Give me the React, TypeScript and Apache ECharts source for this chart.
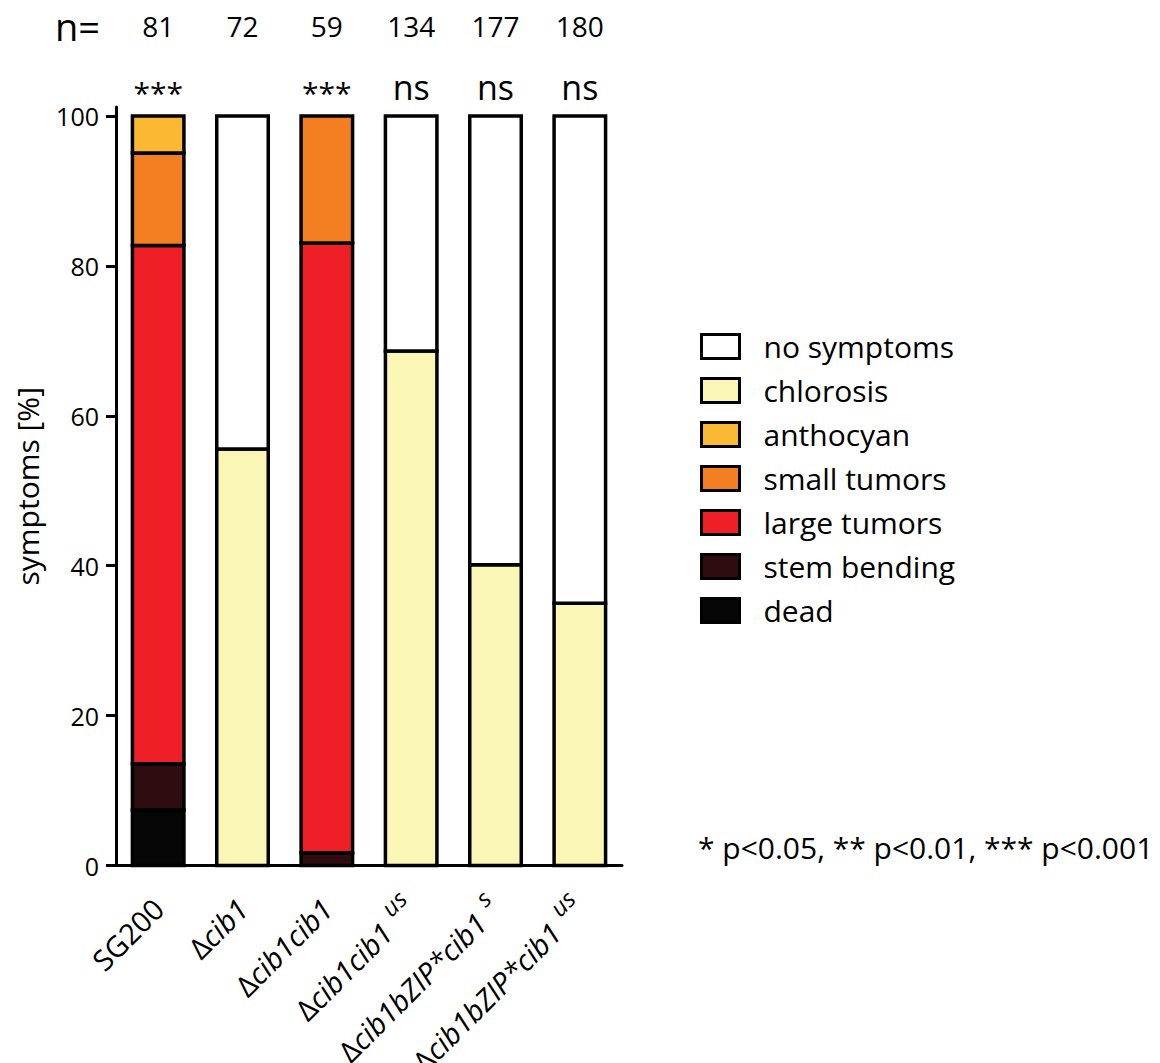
import React, { useEffect, useRef } from 'react';
import * as echarts from 'echarts';

// Strain names; "^" marks a superscript suffix, a leading Δ is drawn upright
const strains = ['SG200', 'Δcib1', 'Δcib1cib1', 'Δcib1cib1^us', 'Δcib1bZIP*cib1^s', 'Δcib1bZIP*cib1^us'];
const sampleSizes = ['81', '72', '59', '134', '177', '180'];
const significance = ['***', '', '***', 'ns', 'ns', 'ns'];

// Share of plants (%) in each symptom class, per strain
const dead = [7.41, 0, 0, 0, 0, 0];
const stemBending = [6.17, 0, 1.69, 0, 0, 0];
const largeTumors = [69.14, 0, 81.36, 0, 0, 0];
const smallTumors = [12.35, 0, 16.95, 0, 0, 0];
const anthocyan = [4.94, 0, 0, 0, 0, 0];
const chlorosis = [0, 55.56, 0, 68.66, 40.11, 35.0];
const noSymptoms = [0, 44.44, 0, 31.34, 59.89, 65.0];

const yTicks = [0, 20, 40, 60, 80, 100];

const FONT = 'Open Sans';
const BAR_WIDTH = 51.5;
const OUTLINE = 3.5;

// Stacking order, bottom to top
const classes = [
  { name: 'dead', data: dead, color: '#060606' },
  { name: 'stem bending', data: stemBending, color: '#2E0C10' },
  { name: 'large tumors', data: largeTumors, color: '#EE1F26' },
  { name: 'small tumors', data: smallTumors, color: '#F47F22' },
  { name: 'anthocyan', data: anthocyan, color: '#FBB832' },
  { name: 'chlorosis', data: chlorosis, color: '#F9F6B6' },
  { name: 'no symptoms', data: noSymptoms, color: '#FFFFFF' },
];

const legendOrder = ['no symptoms', 'chlorosis', 'anthocyan', 'small tumors', 'large tumors', 'stem bending', 'dead'];

function strainLabel(value: string): string {
  const [main, sup] = value.split('^');
  let s = main.startsWith('Δ') ? `{d|Δ}{i|${main.slice(1)}}` : `{r|${main}}`;
  if (sup) s += `{sup|${sup}}`;
  return s;
}

function sigLabel(value: string): string {
  if (!value) return '';
  return value.includes('*') ? `{st|${value}}` : `{ns|${value}}`;
}

// Build [category, lower, upper] rows for each class so segments share exact edges
function stackedRows() {
  const base = strains.map(() => 0);
  return classes.map((c) => {
    const rows: number[][] = [];
    c.data.forEach((v, i) => {
      if (v > 0) rows.push([i, base[i], base[i] + v]);
      base[i] += v;
    });
    return rows;
  });
}

export default function App() {
  const ref = useRef<HTMLDivElement>(null);

  useEffect(() => {
    document.body.style.margin = '0';
    const chart = echarts.init(ref.current!, null, { renderer: 'svg' });

    const rows = stackedRows();
    const labelSize = 29;
    const option: any = {
      animation: false,
      textStyle: { fontFamily: FONT, color: '#000' },
      grid: { left: 116, top: 107, width: 506, height: 758.5, outerBoundsMode: 'none' },
      legend: {
        data: legendOrder,
        orient: 'vertical',
        left: 700,
        top: 331.5,
        padding: 0,
        itemWidth: 38,
        itemHeight: 24,
        itemGap: 14,
        icon: 'rect',
        selectedMode: false,
        itemStyle: { borderColor: '#000', borderWidth: 3 },
        textStyle: { fontFamily: FONT, fontSize: 30, color: '#000', padding: [0, 0, 0, 19] },
      },
      xAxis: [
        {
          type: 'category',
          data: strains,
          axisLine: { lineStyle: { color: '#000', width: 3 } },
          axisTick: { alignWithLabel: true, length: 10, lineStyle: { width: 3, color: '#000' } },
          axisLabel: {
            rotate: 45,
            margin: 38,
            interval: 0,
            formatter: strainLabel,
            rich: {
              r: { fontFamily: FONT, fontSize: labelSize, lineHeight: 50, color: '#000' },
              d: { fontFamily: FONT, fontSize: labelSize, lineHeight: 50, color: '#000' },
              i: { fontFamily: FONT, fontSize: labelSize, fontStyle: 'italic', lineHeight: 50, color: '#000' },
              sup: { fontFamily: FONT, fontSize: 24, fontStyle: 'italic', lineHeight: 24, verticalAlign: 'top', padding: [0, 0, 0, 10], color: '#000' },
            },
          },
        },
        {
          type: 'category',
          data: sampleSizes,
          position: 'top',
          offset: 67,
          axisLine: { show: false },
          axisTick: { show: false },
          axisLabel: { margin: 0, interval: 0, fontFamily: FONT, fontSize: 28, color: '#000' },
        },
        {
          type: 'category',
          data: significance,
          position: 'top',
          offset: 0,
          axisLine: { show: false },
          axisTick: { show: false },
          axisLabel: {
            margin: 0,
            interval: 0,
            formatter: sigLabel,
            rich: {
              ns: { fontFamily: FONT, fontSize: 34, lineHeight: 40, color: '#000' },
              st: { fontFamily: FONT, fontSize: 30, lineHeight: 30, color: '#000' },
            },
          },
        },
      ],
      yAxis: {
        type: 'value',
        min: 0,
        max: 101.2,
        name: 'symptoms [%]',
        nameLocation: 'middle',
        nameRotate: 90,
        nameGap: 74,
        nameTextStyle: { fontFamily: FONT, fontSize: 30, color: '#000' },
        splitLine: { show: false },
        axisLine: { show: true, lineStyle: { color: '#000', width: 3 } },
        axisTick: { show: true, length: 10, customValues: yTicks, lineStyle: { width: 3, color: '#000' } },
        axisLabel: { customValues: yTicks, margin: 17, fontFamily: FONT, fontSize: 25, color: '#000' },
      },
      series: classes.map((c, k) => ({
        name: c.name,
        type: 'custom',
        xAxisIndex: 0,
        yAxisIndex: 0,
        data: rows[k],
        encode: { x: 0, y: [1, 2] },
        itemStyle: { color: c.color },
        renderItem: (params: any, api: any) => {
          const idx = api.value(0);
          const lo = api.coord([idx, api.value(1)]);
          const hi = api.coord([idx, api.value(2)]);
          return {
            type: 'rect',
            shape: { x: lo[0] - BAR_WIDTH / 2, y: hi[1], width: BAR_WIDTH, height: lo[1] - hi[1] },
            style: { fill: c.color, stroke: '#000', lineWidth: OUTLINE },
          };
        },
      })),
      graphic: [
        { type: 'text', left: 55, top: 7, style: { text: 'n=', fontFamily: FONT, fontSize: 38, fill: '#000' } },
        {
          type: 'text',
          left: 698,
          top: 832,
          style: { text: '* p<0.05, ** p<0.01, *** p<0.001', fontFamily: FONT, fontSize: 30, fill: '#000' },
        },
      ],
    };

    chart.setOption(option);
    return () => chart.dispose();
  }, []);

  return <div ref={ref} style={{ width: 1160, height: 1063 }} />;
}
